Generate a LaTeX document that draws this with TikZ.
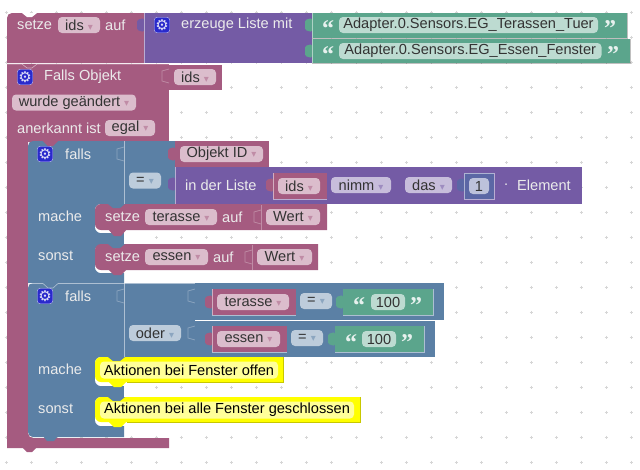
\documentclass[tikz,border=0pt]{standalone}
\usepackage{fontspec}
\setmainfont{Liberation Sans}
\newfontfamily\dejavu{DejaVu Sans}
\newfontfamily\quotefont{Liberation Serif}
\definecolor{magblock}{HTML}{A55B80}
\definecolor{purpblock}{HTML}{745BA5}
\definecolor{greenblock}{HTML}{5BA58C}
\definecolor{blueblock}{HTML}{5B80A5}
\definecolor{numblock}{HTML}{5B67A5}
\definecolor{magfield}{HTML}{DBBDCC}
\definecolor{purpfield}{HTML}{C7BDDB}
\definecolor{greenfield}{HTML}{BDDBD1}
\definecolor{bluefield}{HTML}{BDCCDB}
\definecolor{numfield}{HTML}{BDC2DB}
\definecolor{yellowblock}{HTML}{FFFF00}
\definecolor{yellowfield}{HTML}{FFFF99}
\definecolor{yellowedge}{HTML}{C8C800}
\definecolor{gearblue}{HTML}{2A2ACC}
\definecolor{griddot}{HTML}{D6D6D6}
% arrow of a dropdown field
\newcommand{\dd}[1]{\hspace{4pt}{\dejavu\fontsize{10}{10}\selectfont\textcolor{#1!70}{▾}}}
% tab of a value block: x, y of its upper end, colour
\newcommand{\blocktab}[3]{\fill[#3,rounded corners=1.5pt] (#1,#2) -- ++(-7,2) -- ++(0,10) -- ++(7,2) -- cycle;}
\newcommand{\sockettab}[2]{\draw[edgefaint] (#1,#2) -- ++(-7,2) -- ++(0,10) -- ++(7,2);}
\begin{document}
\begin{tikzpicture}[x=1pt,y=-1pt,font=\fontsize{14.6}{16}\selectfont]
\tikzset{
  lbl/.style={text=white!92!black,inner sep=0pt,anchor=west},
  field/.style={rounded corners=4pt,minimum height=16pt,inner sep=0pt,text=black!80},
  fieldm/.style={field,fill=magfield},
  fieldp/.style={field,fill=purpfield},
  fieldg/.style={field,fill=greenfield},
  fieldb/.style={field,fill=bluefield},
  fieldn/.style={field,fill=numfield},
  fieldy/.style={field,fill=yellowfield,text=black,minimum height=17pt},
  quot/.style={text=white!85!greenblock,inner sep=0pt,font=\quotefont\bfseries\fontsize{24}{24}\selectfont},
  gearbox/.style={fill=gearblue,draw=white!70!gearblue,rounded corners=3pt,minimum size=15.5pt,inner sep=0pt,text=white!85!gearblue,font=\dejavu\fontsize{15}{15}\selectfont},
  edgelight/.style={draw=white,opacity=0.5,line width=0.6pt},
  edgefaint/.style={draw=white,opacity=0.3,line width=0.7pt},
  edgedark/.style={draw=black,opacity=0.25,line width=0.6pt},
}
\useasboundingbox (0,0) rectangle (640,469);
\fill[white] (0,0) rectangle (640,469);
% grid of the workspace
\foreach \gx in {6,31,...,631}
  \foreach \gy in {12,37,...,462}
    \draw[griddot,line width=0.6pt] (\gx-1.5,\gy) -- (\gx+1.5,\gy) (\gx,\gy-1.5) -- (\gx,\gy+1.5);

% setze ids auf
\fill[magblock] (144,63) -- (7,63) [rounded corners=5pt] -- (7,13) [sharp corners] -- (144,13) -- cycle;
\fill[white] (22,13) -- (27,17) -- (32,17) -- (37,13) -- cycle;
\fill[purpblock] (144,13) rectangle (312,63);
\fill[greenblock] (312,13) rectangle (627,38);
\fill[greenblock] (312,39) rectangle (630,63);
\blocktab{144}{18}{purpblock}
\blocktab{312}{18}{greenblock}
\blocktab{312}{44}{greenblock}
\draw[edgelight] (144,13) -- (144,63) (312,13) -- (312,63) (312,38.5) -- (630,38.5);
\draw[edgedark] (312,63) -- (630,63) -- (630,39) (312,38) -- (627,38) -- (627,13);
\node[lbl] (setzeTop) at (17,25) {setze};
\node[fieldm,minimum width=42pt] (idsTop) at (79,25) {ids\dd{magblock}};
\node[lbl] (aufTop) at (105,25) {auf};
\node[gearbox] (gearTop) at (162,25) {⚙};
\node[lbl] (listeMit) at (181,25) {erzeuge Liste mit};
\node[quot] (quotA) at (328,29) {“};
\node[fieldg,minimum width=259pt] (adapterA) at (468.5,25) {Adapter.0.Sensors.EG\_Terassen\_Tuer};
\node[quot] (quotB) at (610,29) {”};
\node[quot] (quotC) at (328,55) {“};
\node[fieldg,minimum width=262.5pt] (adapterB) at (470.25,51) {Adapter.0.Sensors.EG\_Essen\_Fenster};
\node[quot] (quotD) at (613,55) {”};

% Falls Objekt
\fill[magblock] (169,448) -- (7,448) [rounded corners=5pt] -- (7,440) -- (7,120) [sharp corners] -- (28,120) -- (28,430) [rounded corners=5pt] -- (28,438) [sharp corners] -- (169,438) -- cycle;
\fill[magblock] (7,64) rectangle (169,142);
\fill[magblock] (169,65) rectangle (222,90);
\fill[magblock] (22,447) -- (37,447) -- (32,452) -- (27,452) -- cycle;
\draw[edgelight] (7,64) -- (22,64) -- (27,68) -- (32,68) -- (37,64) -- (169,64);
\sockettab{169}{69}
\node[gearbox] (gearObj) at (25,77) {⚙};
\node[lbl] (fallsObj) at (44,77) {Falls Objekt};
\node[fieldm,minimum width=42pt] (idsObj) at (195,77) {ids\dd{magblock}};
\node[fieldm,minimum width=124pt] (geaendert) at (74,102.5) {wurde geändert\dd{magblock}};
\node[lbl] (anerkannt) at (17,128) {anerkannt ist};
\node[fieldm,minimum width=50pt] (egal) at (130,128) {egal\dd{magblock}};

% erstes falls
\fill[blueblock] (124,283) -- (28,283) [rounded corners=5pt] -- (28,141) [sharp corners] -- (175,141) -- (175,204) -- (124,204) -- cycle;
\fill[white,rounded corners=6pt] (95,204) rectangle (135,233);
\fill[white,rounded corners=6pt] (95,245) rectangle (135,273);
\fill[white] (124,204) rectangle (135,272);
\fill[blueblock] (100,233) rectangle (124,245);
\fill[blueblock] (100,272.5) rectangle (124,283);
\fill[magblock] (43,141) -- (58,141) -- (53,146) -- (48,146) -- cycle;
\draw[edgelight] (124,141) -- (124,204);
\sockettab{124}{147}
\node[gearbox] (gearA) at (45,154) {⚙};
\node[lbl] (fallsA) at (65,154) {falls};
\node[lbl] (macheA) at (38,216) {mache};
\node[lbl] (sonstA) at (38,256) {sonst};
\node[fieldb,minimum width=32pt] (gleichA) at (145,180.5) {=\dd{blueblock}};

\fill[magblock] (175,141) rectangle (269,167);
\blocktab{175}{147}{magblock}
\node[fieldm,minimum width=83pt] (objektId) at (221.5,154) {Objekt ID\dd{magblock}};

\fill[purpblock] (175,167) rectangle (582,204);
\blocktab{175}{177}{purpblock}
\draw[edgelight] (175,167) -- (175,204);
\node[lbl] (inListe) at (185,185) {in der Liste};
\fill[magblock] (273,173) rectangle (327,199);
\blocktab{273}{178}{magblock}
\draw[edgelight] (273,173) -- (273,199) -- (327,199);
\node[fieldm,minimum width=42pt] (idsListe) at (299,186) {ids\dd{magblock}};
\node[fieldp,minimum width=60pt] (nimm) at (361,185) {nimm\dd{purpblock}};
\node[fieldp,minimum width=47pt] (das) at (428.5,185) {das\dd{purpblock}};
\fill[numblock] (464,173) rectangle (494,199);
\blocktab{464}{178}{numblock}
\draw[edgelight] (464,173) rectangle (494,199);
\node[fieldn,minimum width=20pt] (eins) at (479,186) {1};
\node[lbl] (punkt) at (504,185) {.};
\node[lbl] (element) at (517,185) {Element};

% setze terasse auf
\fill[magblock] (327,230) -- (102,230) [rounded corners=6pt] -- (95,230) -- (95,204) [sharp corners] -- (327,204) -- cycle;
\fill[blueblock] (108,204) -- (125,204) -- (120,208) -- (113,208) -- cycle;
\fill[magblock] (108,229) -- (127,229) -- (121,236) -- (114,236) -- cycle;
\draw[edgefaint] (261,205) -- (261,230);
\sockettab{261}{210}
\node[lbl] (setzeA) at (105,217) {setze};
\node[fieldm,minimum width=72pt] (terasseA) at (181,217) {terasse\dd{magblock}};
\node[lbl] (aufA) at (222,217) {auf};
\node[fieldm,minimum width=54pt] (wertA) at (293,217) {Wert\dd{magblock}};

% setze essen auf
\fill[magblock] (318,270) -- (102,270) [rounded corners=6pt] -- (95,270) -- (95,244) [sharp corners] -- (318,244) -- cycle;
\fill[blueblock] (108,244) -- (125,244) -- (120,248) -- (113,248) -- cycle;
\fill[magblock] (108,269) -- (127,269) -- (121,275) -- (114,275) -- cycle;
\draw[edgefaint] (252,245) -- (252,270);
\sockettab{252}{250}
\node[lbl] (setzeB) at (105,257) {setze};
\node[fieldm,minimum width=63pt] (essenA) at (176.5,257) {essen\dd{magblock}};
\node[lbl] (aufB) at (213,257) {auf};
\node[fieldm,minimum width=55pt] (wertB) at (284.5,257) {Wert\dd{magblock}};

% zweites falls
\fill[blueblock] (124,437) -- (35,437) [rounded corners=5pt] -- (28,437) -- (28,283) [sharp corners] -- (195,283) -- (195,357) -- (124,357) -- cycle;
\fill[white,rounded corners=6pt] (95,357) rectangle (135,386);
\fill[white,rounded corners=6pt] (95,397) rectangle (135,426);
\fill[white] (124,357) rectangle (135,426);
\fill[blueblock] (100,386) rectangle (124,397);
\fill[blueblock] (100,426) rectangle (124,437);
\fill[blueblock] (43,436) -- (58,436) -- (54,441) -- (47,441) -- cycle;
\draw[edgelight] (28,283.5) -- (43,283.5) -- (48,288) -- (53,288) -- (58,283.5) -- (195,283.5);
\draw[edgelight] (124,283) -- (124,357) (195,283) -- (195,357);
\sockettab{124}{289}
\sockettab{195}{289}
\sockettab{195}{326}
\node[gearbox] (gearB) at (45,296) {⚙};
\node[lbl] (fallsB) at (65,296) {falls};
\node[lbl] (macheB) at (38,369) {mache};
\node[lbl] (sonstB) at (38,409) {sonst};
\node[fieldb,minimum width=52pt] (oder) at (155,333) {oder\dd{blueblock}};

% terasse = 100
\fill[blueblock] (195,283) rectangle (444,320);
\draw[edgelight] (195,320) -- (444,320);
\fill[magblock] (212,289) rectangle (296,315);
\blocktab{212}{295}{magblock}
\draw[edgelight] (212,289) -- (212,315) -- (296,315);
\node[fieldm,minimum width=72pt] (terasseB) at (253,302) {terasse\dd{magblock}};
\node[fieldb,minimum width=32pt] (gleichB) at (316,301) {=\dd{blueblock}};
\fill[greenblock] (343,289) rectangle (433,315);
\blocktab{343}{295}{greenblock}
\draw[edgelight] (343,315) -- (433,315) -- (433,289);
\node[quot] (quotE) at (359,306) {“};
\node[fieldg,minimum width=34pt] (hundertA) at (388,302) {100};
\node[quot] (quotF) at (416,306) {”};

% essen = 100
\fill[blueblock] (195,320.5) rectangle (435,357);
\fill[magblock] (212,326) rectangle (287,352);
\blocktab{212}{332}{magblock}
\draw[edgelight] (212,326) -- (212,352) -- (287,352);
\node[fieldm,minimum width=63pt] (essenB) at (248.5,339) {essen\dd{magblock}};
\node[fieldb,minimum width=32pt] (gleichC) at (307,338) {=\dd{blueblock}};
\fill[greenblock] (335,326) rectangle (424,352);
\blocktab{335}{332}{greenblock}
\draw[edgelight] (335,352) -- (424,352) -- (424,326);
\node[quot] (quotG) at (351,343) {“};
\node[fieldg,minimum width=34pt] (hundertB) at (379,339) {100};
\node[quot] (quotH) at (407,343) {”};

% Aktionen
\fill[yellowblock] (283,382) -- (102,382) [rounded corners=6pt] -- (95,382) -- (95,357) [sharp corners] -- (283,357) -- cycle;
\draw[yellowedge] (283,357) -- (283,382) -- (127,382);
\fill[blueblock] (108,357) -- (125,357) -- (120,361) -- (113,361) -- cycle;
\fill[yellowblock] (108,381) -- (127,381) -- (121,387) -- (114,387) -- cycle;
\node[fieldy,minimum width=178pt] (aktionA) at (189,370) {Aktionen bei Fenster offen};

\fill[yellowblock] (360,422) -- (102,422) [rounded corners=6pt] -- (95,422) -- (95,397) [sharp corners] -- (360,397) -- cycle;
\draw[yellowedge] (360,397) -- (360,422) -- (127,422);
\fill[blueblock] (108,397) -- (125,397) -- (120,401) -- (113,401) -- cycle;
\fill[yellowblock] (108,421) -- (127,421) -- (121,427) -- (114,427) -- cycle;
\node[fieldy,minimum width=254pt] (aktionB) at (227,410) {Aktionen bei alle Fenster geschlossen};
\end{tikzpicture}
\end{document}
